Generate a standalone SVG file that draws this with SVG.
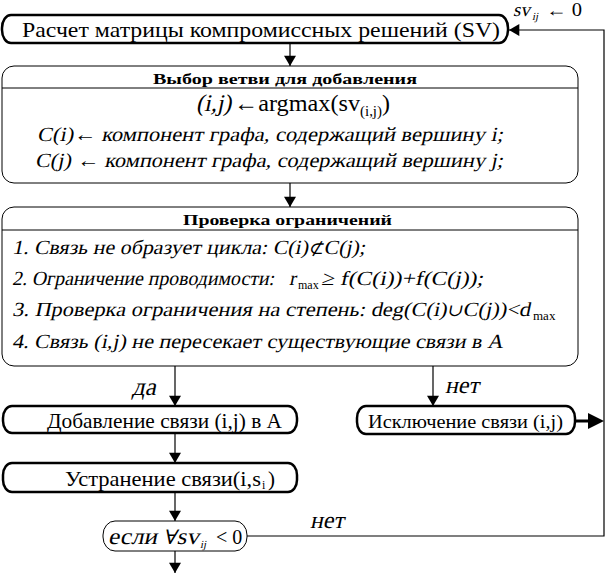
<svg xmlns="http://www.w3.org/2000/svg" width="607" height="574" viewBox="0 0 607 574">
<defs>
<style>
.t{font-family:"Liberation Serif","Times New Roman",serif;fill:#000}
.m{font-family:"DejaVu Serif","Liberation Serif",serif}
.b{font-weight:bold}
.term{fill:#fff;stroke:#000;stroke-width:2.5}
.blk{fill:#fff;stroke:#000;stroke-width:1}
.ln{fill:none;stroke:#000;stroke-width:1.2}
</style>
<marker id="ahd" viewBox="0 0 12 14" refX="12" refY="7" markerWidth="14" markerHeight="12" orient="auto" markerUnits="userSpaceOnUse"><path d="M0,0 L12,7 L0,14 z" fill="#000"/></marker>
</defs>
<rect width="607" height="574" fill="#fff"/>

<g id="connectors">
<path class="ln" d="M290,44 V66" marker-end="url(#ahd)"/>
<path class="ln" d="M290,183 V207" marker-end="url(#ahd)"/>
<path class="ln" d="M175,366 V406" marker-end="url(#ahd)"/>
<path class="ln" d="M433,366 V406" marker-end="url(#ahd)"/>
<path class="ln" d="M175,433 V463" marker-end="url(#ahd)"/>
<path class="ln" d="M175,492 V521" marker-end="url(#ahd)"/>
<path class="ln" d="M175,551 V573" marker-end="url(#ahd)"/>
<path class="ln" d="M247,536 H604 V30 H509" marker-end="url(#ahd)"/>
<path d="M575,421 H589" stroke="#000" stroke-width="3" fill="none"/>
<path d="M588,413 L604,421 L588,429 z" fill="#000"/>
<g id="lbl-sv0">
<text class="t" x="513" y="16" font-size="19" transform="matrix(1 0 -0.21 1 3.36 0)">sv</text>
<text class="t" x="532" y="20" font-size="11" transform="matrix(1 0 -0.21 1 4.2 0)">ij</text>
<text class="t" x="546" y="16" font-size="18" textLength="36" lengthAdjust="spacingAndGlyphs">← 0</text>
</g>
<text id="lbl-da" class="t" x="132" y="395" font-size="25" transform="matrix(1 0 -0.21 1 82.95 0)">да</text>
<text id="lbl-net1" class="t" x="445" y="393" font-size="24" transform="matrix(1 0 -0.21 1 82.53 0)">нет</text>
<text id="lbl-net2" class="t" x="310" y="528" font-size="24" transform="matrix(1 0 -0.21 1 110.88 0)">нет</text>
</g>

<g id="n-sv">
<rect class="term" x="2" y="15" width="506" height="28" rx="9" ry="13"/>
<text class="t" x="22" y="37" font-size="22" textLength="478" lengthAdjust="spacingAndGlyphs">Расчет матрицы компромиссных решений (SV)</text>
</g>

<g id="n-select">
<rect class="blk" x="2" y="66" width="576" height="117" rx="12"/>
<line x1="2" y1="88" x2="578" y2="88" stroke="#000" stroke-width="1"/>
<text class="t b" x="153" y="84" font-size="15" textLength="264" lengthAdjust="spacingAndGlyphs">Выбор ветви для добавления</text>
<text class="t" x="196" y="111" font-size="24" transform="matrix(1 0 -0.21 1 23.31 0)">(i,j)</text>
<text class="t" x="234" y="111" font-size="24" textLength="126" lengthAdjust="spacingAndGlyphs">←argmax(sv</text>
<text class="t" x="360" y="116" font-size="14" textLength="22" lengthAdjust="spacingAndGlyphs">(i,j)</text>
<text class="t" x="382" y="111" font-size="24">)</text>
<text class="t" x="37" y="141" font-size="20" textLength="466" lengthAdjust="spacingAndGlyphs" transform="matrix(1 0 -0.21 1 29.61 0)">C(i)← компонент графа, содержащий вершину i;</text>
<text class="t" x="35" y="167" font-size="20" textLength="468" lengthAdjust="spacingAndGlyphs" transform="matrix(1 0 -0.21 1 35.07 0)">C(j) ← компонент графа, содержащий вершину j;</text>
</g>

<g id="n-check">
<rect class="blk" x="2" y="207" width="576" height="159" rx="12"/>
<line x1="2" y1="230" x2="578" y2="230" stroke="#000" stroke-width="1"/>
<text class="t b" x="183" y="225" font-size="15" textLength="209" lengthAdjust="spacingAndGlyphs">Проверка ограничений</text>
<text class="t" x="12" y="254" font-size="20" textLength="353" lengthAdjust="spacingAndGlyphs" transform="matrix(1 0 -0.21 1 53.34 0)">1. Связь не образует цикла: C(i)<tspan class="m" font-size="17">⊄</tspan>C(j);</text>
<text class="t" x="12" y="285" font-size="20" textLength="262" lengthAdjust="spacingAndGlyphs" transform="matrix(1 0 -0.21 1 59.85 0)">2. Ограничение проводимости:</text>
<text class="t" x="289" y="285" font-size="20" transform="matrix(1 0 -0.21 1 59.85 0)">r</text>
<text class="t" x="298" y="289" font-size="12">max</text>
<text class="t" x="321" y="285" font-size="20" textLength="162" lengthAdjust="spacingAndGlyphs" transform="matrix(1 0 -0.21 1 59.85 0)">≥ f(C(i))+f(C(j));</text>
<text class="t" x="12" y="316" font-size="20" textLength="518" lengthAdjust="spacingAndGlyphs" transform="matrix(1 0 -0.21 1 66.36 0)">3. Проверка ограничения на степень: deg(C(i)<tspan class="m" font-size="17">∪</tspan>C(j))&lt;d</text>
<text class="t" x="533" y="320" font-size="13">max</text>
<text class="t" x="12" y="348" font-size="20" textLength="491" lengthAdjust="spacingAndGlyphs" transform="matrix(1 0 -0.21 1 73.08 0)">4. Связь (i,j) не пересекает существующие связи в А</text>
</g>

<g id="n-add">
<rect class="term" x="3" y="406" width="294" height="27" rx="9" ry="12"/>
<text class="t" x="47" y="428" font-size="21" textLength="235" lengthAdjust="spacingAndGlyphs">Добавление связи (i,j) в А</text>
</g>

<g id="n-excl">
<rect class="term" x="357" y="406" width="218" height="28" rx="9" ry="12"/>
<text class="t" x="368" y="428" font-size="19" textLength="195" lengthAdjust="spacingAndGlyphs">Исключение связи (i,j)</text>
</g>

<g id="n-remove">
<rect class="term" x="3" y="463" width="294" height="29" rx="9" ry="12"/>
<text class="t" x="65" y="486" font-size="21" textLength="196" lengthAdjust="spacingAndGlyphs">Устранение связи(i,s</text>
<text class="t" x="262" y="489" font-size="12">i</text>
<text class="t" x="268" y="486" font-size="21">)</text>
</g>

<g id="n-if">
<rect class="blk" x="103" y="521" width="144" height="30" rx="12" ry="14"/>
<text class="t" x="108" y="544" font-size="23" textLength="91" lengthAdjust="spacingAndGlyphs" transform="matrix(1 0 -0.21 1 114.24 0)">если <tspan class="m" font-size="20">∀</tspan>sv</text>
<text class="t" x="200" y="548" font-size="11" transform="matrix(1 0 -0.21 1 115.08 0)">ij</text>
<text class="t" x="216" y="544" font-size="20">&lt; 0</text>
</g>
</svg>
